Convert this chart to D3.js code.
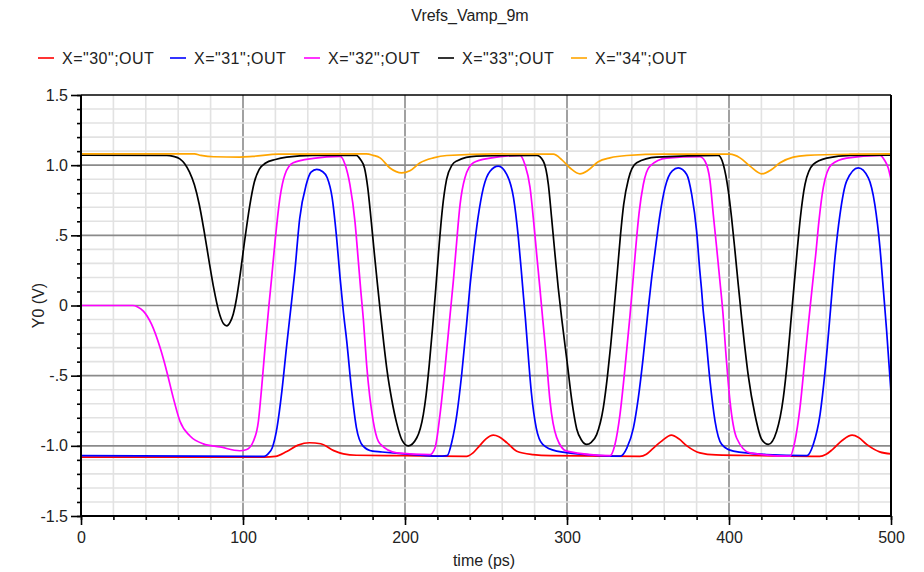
<!DOCTYPE html>
<html>
<head>
<meta charset="utf-8">
<script src="https://cdn.jsdelivr.net/npm/d3@7"></script>
<style>
  html, body { margin: 0; padding: 0; background: #fff; }
  svg { display: block; font-family: "Liberation Sans", Arial, sans-serif; }
</style>
</head>
<body>
<svg id="chart" width="924" height="572"></svg>
<script>
// ---------------- DATA ----------------
const chartTitle = "Vrefs_Vamp_9m";
const seriesNames = ['X="30";OUT', 'X="31";OUT', 'X="32";OUT', 'X="33";OUT', 'X="34";OUT'];
const seriesColors = ["#ff0000", "#0000ff", "#ff00ff", "#000000", "#ffa500"];
const xTickValues = [0, 100, 200, 300, 400, 500];
const xTickLabels = ["0", "100", "200", "300", "400", "500"];
const yTickValues = [1.5, 1.0, 0.5, 0, -0.5, -1.0, -1.5];
const yTickLabels = ["1.5", "1.0", ".5", "0", "-.5", "-1.0", "-1.5"];
const xAxisTitle = "time (ps)";
const yAxisTitle = "Y0 (V)";

// [time (ps), volts]
const x30 = [[0,-1.08],[113,-1.08],[120,-1.075],[127,-1.04],[134,-0.995],[141,-0.978],[148,-0.985],[156,-1.034],[162,-1.057],[170,-1.067],[200,-1.07],[238,-1.075],[242,-1.05],[246,-1.0],[250,-0.95],[254.5,-0.924],[258,-0.935],[263,-0.979],[269,-1.038],[279,-1.062],[290,-1.07],[345,-1.075],[349,-1.06],[353,-1.02],[358,-0.97],[364.5,-0.924],[369,-0.95],[374,-1.0],[382,-1.05],[392,-1.065],[420,-1.07],[456,-1.075],[460,-1.06],[464,-1.025],[470,-0.96],[476,-0.924],[480,-0.94],[485,-0.99],[493,-1.043],[500,-1.057]];
const x31 = [[0,-1.07],[113,-1.075],[116,-1.05],[118,-1.015],[121,-0.87],[124,-0.61],[127,-0.28],[130,0.03],[132,0.245],[135,0.62],[139,0.86],[142,0.95],[145.5,0.97],[149,0.955],[152,0.91],[155,0.77],[157.8,0.48],[159.9,0.2],[162,-0.05],[164,-0.25],[167,-0.6],[170,-0.87],[174,-1.0],[180,-1.038],[185,-1.043],[205,-1.062],[220,-1.074],[226,-1.07],[229,-0.967],[232,-0.777],[235,-0.49],[238,-0.135],[240,0.125],[242,0.34],[245,0.62],[248.4,0.84],[252.5,0.957],[257.6,0.993],[262.8,0.934],[267,0.767],[270,0.48],[272,0.22],[273.2,0.055],[274.3,-0.09],[275.5,-0.27],[278,-0.62],[281,-0.872],[285,-0.99],[293.6,-1.038],[312,-1.062],[333,-1.074],[337,-1.015],[341,-0.872],[344,-0.66],[347,-0.373],[350,-0.04],[352,0.17],[354.3,0.38],[357.4,0.648],[360.5,0.84],[365,0.96],[368.7,0.98],[373.9,0.934],[377,0.79],[380,0.53],[382,0.245],[383,0.12],[384.1,-0.04],[385.2,-0.16],[388.3,-0.54],[391.4,-0.825],[395.5,-0.99],[402.7,-1.038],[423,-1.062],[448,-1.07],[452,-0.99],[456.2,-0.777],[459.3,-0.468],[462.3,-0.08],[465.4,0.34],[468.5,0.648],[472.6,0.886],[479.8,0.98],[486,0.91],[490,0.72],[493.2,0.41],[495.2,0.125],[497.3,-0.18],[500,-0.62]];
const x32 = [[0,0],[32,0],[35,-0.01],[38.5,-0.04],[43.6,-0.135],[48.8,-0.30],[52.9,-0.468],[57,-0.66],[61.1,-0.825],[67.3,-0.93],[75.5,-0.986],[85.8,-1.008],[98,-1.035],[102.3,-1.026],[106.4,-0.967],[109.5,-0.825],[111.5,-0.587],[113.6,-0.30],[116,0.0],[117.7,0.2],[119.8,0.458],[122.8,0.767],[125.9,0.934],[131,1.017],[143.4,1.048],[160,1.062],[163,1.005],[166,0.862],[169.1,0.60],[171.2,0.316],[172.6,0.12],[174.3,-0.1],[176.3,-0.42],[180.4,-0.825],[183.5,-0.967],[185,-0.99],[194.8,-1.05],[215.4,-1.062],[218.5,-1.015],[221.6,-0.777],[224.7,-0.445],[227.8,-0.07],[229.8,0.17],[231.5,0.4],[234,0.72],[237,0.91],[242.2,1.017],[252.5,1.05],[271,1.07],[274,1.005],[277.2,0.84],[279.2,0.624],[281.3,0.363],[283.3,0.12],[285.2,-0.12],[287,-0.34],[289.5,-0.68],[293.6,-0.94],[299.8,-1.038],[326.5,-1.07],[329.6,-0.99],[332.7,-0.777],[335.8,-0.445],[338.9,-0.07],[340.9,0.2],[342.5,0.42],[344.5,0.66],[347.1,0.862],[351.2,0.993],[361.5,1.05],[382,1.06],[385.2,1.028],[388.3,0.886],[390.3,0.648],[392.4,0.41],[394.4,0.173],[396.3,-0.06],[398,-0.33],[400.6,-0.68],[404.7,-0.944],[412.9,-1.05],[437.7,-1.074],[440.7,-0.967],[443.8,-0.73],[446.9,-0.373],[450,-0.02],[452,0.2],[453.5,0.36],[455.5,0.6],[458.2,0.84],[463.4,1.005],[472.6,1.05],[493.2,1.07],[496.3,1.03],[498.3,0.98],[500,0.897]];
const x33 = [[0,1.071],[53,1.07],[57,1.063],[61,1.045],[64,1.01],[67,0.95],[70,0.86],[73,0.72],[76,0.53],[79,0.32],[82,0.12],[85,-0.04],[88,-0.13],[90,-0.145],[92,-0.12],[94,-0.06],[96,0.05],[98,0.2],[101,0.46],[104,0.7],[107,0.88],[110,0.97],[114,1.015],[120,1.04],[127,1.057],[143,1.07],[170,1.07],[172.5,1.04],[175,0.98],[177,0.84],[179,0.62],[181,0.38],[183,0.15],[185,-0.07],[187,-0.28],[189,-0.47],[191.8,-0.67],[194.9,-0.84],[198,-0.955],[202,-1.0],[207.2,-0.944],[211.3,-0.777],[213,-0.64],[215,-0.42],[217,-0.16],[219,0.12],[221,0.42],[223,0.68],[225.7,0.9],[229,1.0],[232,1.03],[244,1.064],[281.3,1.07],[285.4,1.028],[288.5,0.862],[290.5,0.624],[292.6,0.363],[294.6,0.125],[296.7,-0.09],[300,-0.397],[303,-0.68],[306,-0.88],[309,-0.96],[312.1,-0.99],[315,-0.975],[318.3,-0.92],[322.4,-0.73],[325,-0.5],[327,-0.28],[329,-0.03],[331,0.23],[333,0.5],[335,0.72],[337.9,0.9],[343,1.017],[355.3,1.057],[393.4,1.07],[396.5,1.005],[399.6,0.815],[401.6,0.624],[403.7,0.387],[405.7,0.15],[407.8,-0.09],[409.5,-0.27],[411.9,-0.5],[416,-0.777],[420.2,-0.955],[424.3,-0.99],[429.4,-0.896],[433.5,-0.66],[436,-0.4],[438,-0.14],[440,0.12],[442,0.38],[444,0.62],[446.9,0.862],[452,1.005],[460.3,1.05],[475,1.07],[500,1.071]];
const x34 = [[0,1.081],[70,1.08],[74,1.07],[82,1.06],[98,1.058],[106,1.063],[122,1.078],[176,1.08],[180.4,1.07],[184.6,1.052],[190.7,0.98],[198,0.945],[203,0.96],[209.3,1.017],[217.5,1.052],[225.8,1.069],[256.6,1.08],[291.6,1.078],[296.7,1.04],[301.9,0.98],[308,0.938],[313.2,0.965],[319.3,1.024],[326.5,1.052],[336.8,1.069],[360,1.078],[400.6,1.078],[406.8,1.052],[413,0.993],[420.2,0.938],[426.3,0.969],[431.5,1.017],[439.7,1.057],[448,1.07],[474.7,1.078],[500,1.08]];
const seriesData = [x30, x31, x32, x33, x34];

// ---------------- LAYOUT ----------------
const svg = d3.select("#chart");
const W = 924, H = 572;
const plot = { left: 81, right: 891, top: 95, bottom: 516 };

svg.append("rect").attr("width", W).attr("height", H).attr("fill", "#fff");

const x = d3.scaleLinear().domain([0, 500]).range([plot.left, plot.right]);
const y = d3.scaleLinear().domain([-1.5, 1.5]).range([plot.bottom, plot.top]);

const xMinor = d3.range(0, 501, 20);
const yMinor = d3.range(-15, 16, 1).map(d => d / 10);

const grid = svg.append("g");
grid.selectAll(".vmin").data(xMinor.filter(d => d % 100 !== 0)).join("line")
  .attr("x1", d => x(d)).attr("x2", d => x(d))
  .attr("y1", plot.top).attr("y2", plot.bottom)
  .attr("stroke", "#e2e2e2").attr("stroke-width", 1.6);
grid.selectAll(".vmaj").data([100, 200, 300, 400]).join("line")
  .attr("x1", d => x(d)).attr("x2", d => x(d))
  .attr("y1", plot.top).attr("y2", plot.bottom)
  .attr("stroke", "#8a8a8a").attr("stroke-width", 1.6);
grid.selectAll(".hmin").data(yMinor.filter(d => Math.round(d * 10) % 5 !== 0)).join("line")
  .attr("x1", plot.left).attr("x2", plot.right)
  .attr("y1", d => y(d)).attr("y2", d => y(d))
  .attr("stroke", "#e2e2e2").attr("stroke-width", 1.6);
grid.selectAll(".hmaj").data([1.0, 0.5, 0, -0.5, -1.0]).join("line")
  .attr("x1", plot.left).attr("x2", plot.right)
  .attr("y1", d => y(d)).attr("y2", d => y(d))
  .attr("stroke", "#8a8a8a").attr("stroke-width", 1.6);

// ---------------- SERIES ----------------
const line = d3.line()
  .x(d => x(d[0])).y(d => y(d[1]))
  .curve(d3.curveMonotoneX);

svg.append("clipPath").attr("id", "clip")
  .append("rect").attr("x", plot.left).attr("y", plot.top)
  .attr("width", plot.right - plot.left).attr("height", plot.bottom - plot.top);

svg.append("g").attr("clip-path", "url(#clip)")
  .selectAll("path").data(seriesData).join("path")
  .attr("d", d => line(d))
  .attr("fill", "none")
  .attr("stroke", (d, i) => seriesColors[i])
  .attr("stroke-width", 1.7)
  .attr("stroke-linejoin", "round");

// ---------------- AXES ----------------
const axisFont = 16;
const gxMinor = svg.append("g").attr("transform", `translate(0,${plot.bottom})`)
  .call(d3.axisBottom(x).tickValues(xMinor).tickSize(4).tickFormat(""));
const gx = svg.append("g").attr("transform", `translate(0,${plot.bottom})`)
  .call(d3.axisBottom(x).tickValues(xTickValues).tickSize(9).tickPadding(7)
    .tickFormat((d, i) => xTickLabels[i]));
const gyMinor = svg.append("g").attr("transform", `translate(${plot.left},0)`)
  .call(d3.axisLeft(y).tickValues(yMinor).tickSize(4).tickFormat(""));
const gy = svg.append("g").attr("transform", `translate(${plot.left},0)`)
  .call(d3.axisLeft(y).tickValues(yTickValues).tickSize(10).tickPadding(3)
    .tickFormat((d, i) => yTickLabels[i]));

[gxMinor, gx, gyMinor, gy].forEach(g => {
  g.selectAll(".domain").remove();
  g.selectAll(".tick line").attr("stroke", "#000").attr("stroke-width", 1.6);
  g.selectAll("text").attr("font-size", axisFont).attr("fill", "#222")
    .attr("font-family", "Liberation Sans, Arial, sans-serif");
});

// frame
svg.append("line").attr("x1", plot.left).attr("x2", plot.right).attr("y1", plot.top).attr("y2", plot.top)
  .attr("stroke", "#000").attr("stroke-width", 1.6);
svg.append("line").attr("x1", plot.right).attr("x2", plot.right).attr("y1", plot.top).attr("y2", plot.bottom)
  .attr("stroke", "#000").attr("stroke-width", 2);
svg.append("line").attr("x1", plot.left).attr("x2", plot.left).attr("y1", plot.top).attr("y2", plot.bottom)
  .attr("stroke", "#000").attr("stroke-width", 2);
svg.append("line").attr("x1", plot.left).attr("x2", plot.right).attr("y1", plot.bottom).attr("y2", plot.bottom)
  .attr("stroke", "#000").attr("stroke-width", 2);

// axis titles
svg.append("text").attr("x", (plot.left + plot.right) / 2 - 2).attr("y", 566)
  .attr("text-anchor", "middle").attr("font-size", 16).attr("fill", "#222").text(xAxisTitle);
svg.append("text").attr("transform", `translate(44,${y(0)}) rotate(-90)`)
  .attr("text-anchor", "middle").attr("font-size", 16).attr("fill", "#222").text(yAxisTitle);

// title
svg.append("text").attr("x", 470).attr("y", 21)
  .attr("text-anchor", "middle").attr("font-size", 16).attr("fill", "#222").text(chartTitle);

// ---------------- LEGEND ----------------
const legendX = [38, 170, 304, 438, 571];
const lg = svg.append("g").selectAll("g").data(seriesNames).join("g")
  .attr("transform", (d, i) => `translate(${legendX[i]},58)`);
lg.append("line").attr("x1", 0).attr("x2", 16).attr("y1", 0).attr("y2", 0)
  .attr("stroke", (d, i) => seriesColors[i]).attr("stroke-width", 1.6);
lg.append("text").attr("x", 24).attr("y", 6).attr("font-size", 16)
  .attr("letter-spacing", "0.5px").attr("fill", "#222")
  .text(d => d);
</script>
</body>
</html>
